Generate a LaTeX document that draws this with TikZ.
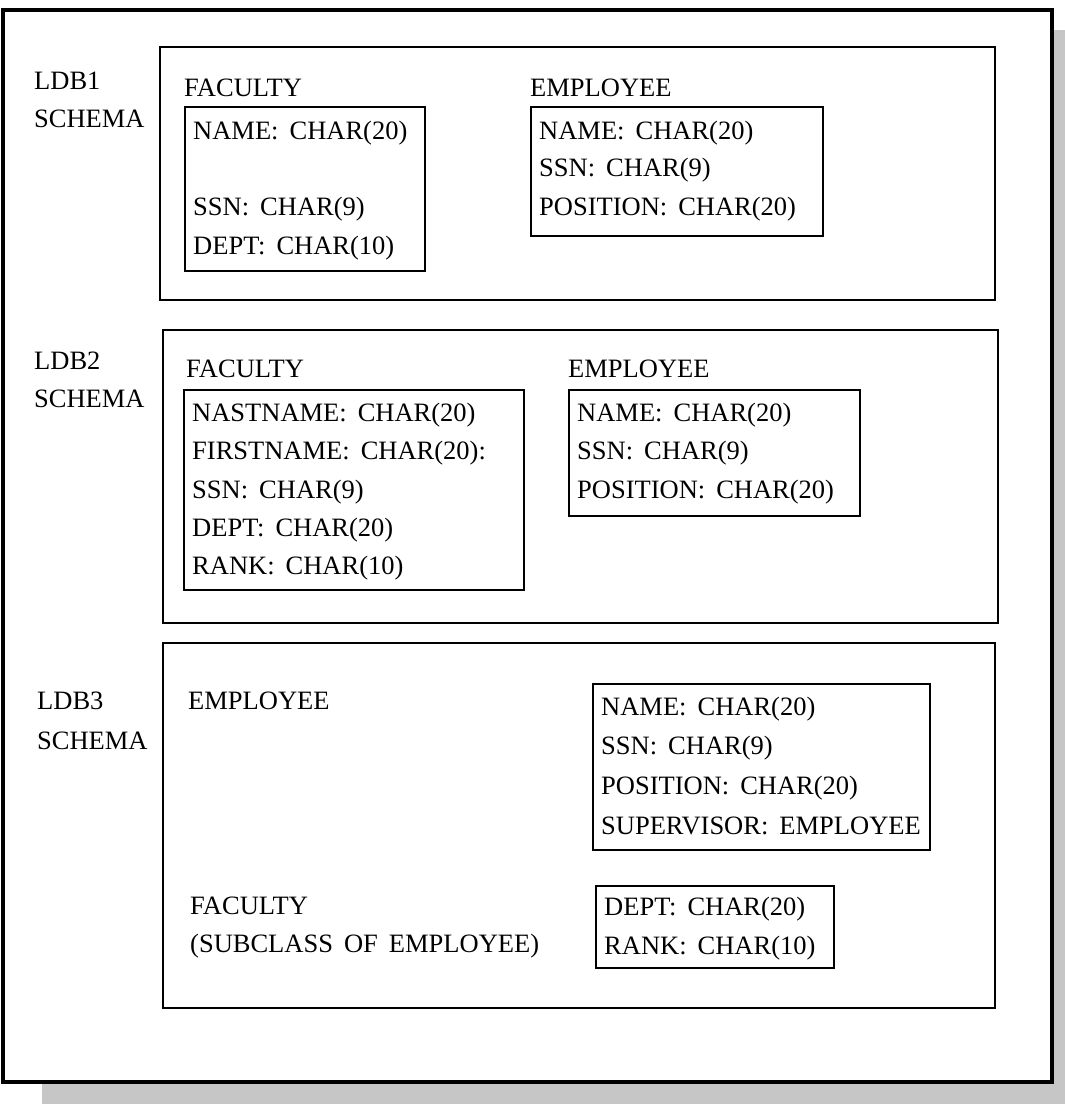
\documentclass[tikz,border=0pt]{standalone}
\usepackage{fontspec}
\setmainfont{Liberation Serif}
\begin{document}
\begin{tikzpicture}[x=1pt,y=-1pt,
  lbl/.style={anchor=base west,inner sep=0pt,font=\fontsize{26.5}{30}\selectfont},
  schemabox/.style={draw=black,line width=2.8pt},
  fieldbox/.style={draw=black,line width=2.8pt},
  frame/.style={draw=black,line width=3.4pt,fill=white}]
\useasboundingbox (0,0) rectangle (1065,1104);
% shadow and outer frame
\fill[gray!45] (42,30) rectangle (1065,1104);
\draw[frame] (3,10) rectangle (1052,1082);
% schema boxes
\draw[schemabox] (160,47) rectangle (995,300);
\draw[schemabox] (163,330) rectangle (998,623);
\draw[schemabox] (163,643) rectangle (995,1008);
% LDB1
\node[lbl] (l1a) at (34,89) {LDB1};
\node[lbl] (l1b) at (34,127) {SCHEMA};
\node[lbl] (f1t) at (184,96) {FACULTY};
\draw[fieldbox] (185,107) rectangle (425,271);
\node[lbl] (f1a) at (193,139) {NAME:\, CHAR(20)};
\node[lbl] (f1b) at (193,215) {SSN:\, CHAR(9)};
\node[lbl] (f1c) at (193,254) {DEPT:\, CHAR(10)};
\node[lbl] (e1t) at (530,96) {EMPLOYEE};
\draw[fieldbox] (531,107) rectangle (823,236);
\node[lbl] (e1a) at (539,139) {NAME:\, CHAR(20)};
\node[lbl] (e1b) at (539,176) {SSN:\, CHAR(9)};
\node[lbl] (e1c) at (539,215) {POSITION:\, CHAR(20)};
% LDB2
\node[lbl] (l2a) at (34,369) {LDB2};
\node[lbl] (l2b) at (34,407) {SCHEMA};
\node[lbl] (f2t) at (186,377) {FACULTY};
\draw[fieldbox] (184,390) rectangle (524,590);
\node[lbl] (f2a) at (192,421) {NASTNAME:\, CHAR(20)};
\node[lbl] (f2b) at (192,459) {FIRSTNAME:\, CHAR(20):};
\node[lbl] (f2c) at (192,498) {SSN:\, CHAR(9)};
\node[lbl] (f2d) at (192,536) {DEPT:\, CHAR(20)};
\node[lbl] (f2e) at (192,574) {RANK:\, CHAR(10)};
\node[lbl] (e2t) at (568,377) {EMPLOYEE};
\draw[fieldbox] (569,390) rectangle (860,516);
\node[lbl] (e2a) at (577,421) {NAME:\, CHAR(20)};
\node[lbl] (e2b) at (577,459) {SSN:\, CHAR(9)};
\node[lbl] (e2c) at (577,498) {POSITION:\, CHAR(20)};
% LDB3
\node[lbl] (l3a) at (37,709) {LDB3};
\node[lbl] (l3b) at (37,749) {SCHEMA};
\node[lbl] (e3t) at (188,709) {EMPLOYEE};
\draw[fieldbox] (593,684) rectangle (930,850);
\node[lbl] (e3a) at (601,715) {NAME:\, CHAR(20)};
\node[lbl] (e3b) at (601,754) {SSN:\, CHAR(9)};
\node[lbl] (e3c) at (601,794) {POSITION:\, CHAR(20)};
\node[lbl] (e3d) at (601,834) {SUPERVISOR:\, EMPLOYEE};
\node[lbl] (f3t) at (190,914) {FACULTY};
\node[lbl] (f3s) at (190,952) {(SUBCLASS\, OF\, EMPLOYEE)};
\draw[fieldbox] (596,886) rectangle (834,968);
\node[lbl] (f3a) at (604,915) {DEPT:\, CHAR(20)};
\node[lbl] (f3b) at (604,954) {RANK:\, CHAR(10)};
\end{tikzpicture}
\end{document}
